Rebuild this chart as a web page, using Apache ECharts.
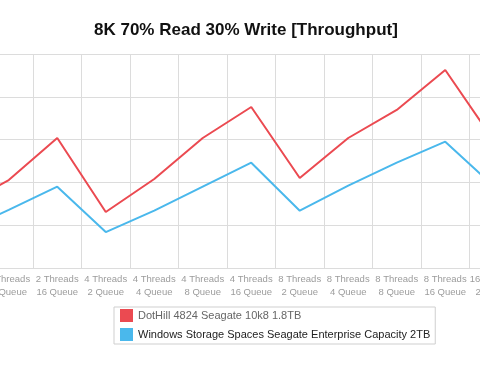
<!DOCTYPE html>
<html>
<head>
<meta charset="utf-8">
<script src="https://cdn.jsdelivr.net/npm/echarts@6/dist/echarts.min.js"></script>
<style>
html,body{margin:0;padding:0;background:#fff;overflow:hidden;width:480px;height:374px;position:relative;}
#chart{position:absolute;left:-64px;top:0;width:582px;height:374px;}
</style>
</head>
<body>
<div id="chart"></div>
<script>
var titleText = "8K 70% Read 30% Write [Throughput]";
var categories = [
  "2 Threads\n4 Queue", "2 Threads\n8 Queue", "2 Threads\n16 Queue",
  "4 Threads\n2 Queue", "4 Threads\n4 Queue", "4 Threads\n8 Queue", "4 Threads\n16 Queue",
  "8 Threads\n2 Queue", "8 Threads\n4 Queue", "8 Threads\n8 Queue", "8 Threads\n16 Queue",
  "16 Threads\n2 Queue"
];
var seriesNames = ["DotHill 4824 Seagate 10k8 1.8TB", "Windows Storage Spaces Seagate Enterprise Capacity 2TB"];
var dotHill = [72, 103, 152, 65.7, 104.2, 152, 188.2, 105.3, 152, 184.7, 231.4, 149];
var storageSpaces = [42, 68.2, 95.2, 42.3, 67.2, 95.2, 123.2, 67.2, 96.5, 123.2, 147.7, 95.8];
var yTicks = [0, 50, 100, 150, 200, 250];

var OFFSET = 64; // the visible window starts this far into the chart
var chart = echarts.init(document.getElementById('chart'), null, {renderer: 'canvas'});
chart.setOption({
  animation: false,
  backgroundColor: '#fff',
  title: {
    text: titleText,
    left: 94 + OFFSET, top: 22, padding: 0,
    textStyle: {fontFamily: 'Liberation Sans, Arial, sans-serif', fontSize: 17, fontWeight: 'bold', color: '#111'}
  },
  legend: {
    orient: 'vertical',
    left: 114 + OFFSET, top: 307,
    padding: [2, 5, 3, 6],
    borderColor: '#cfcfcf', borderWidth: 1,
    itemWidth: 13, itemHeight: 13, itemGap: 6,
    icon: 'rect',
    data: [
      {name: seriesNames[0], textStyle: {color: '#666'}},
      {name: seriesNames[1], textStyle: {color: '#222'}}
    ],
    textStyle: {fontFamily: 'Liberation Sans, Arial, sans-serif', fontSize: 11}
  },
  grid: {left: 0, right: 0, top: 54, bottom: 105.7, containLabel: false, outerBoundsMode: 'none'},
  xAxis: {
    type: 'category',
    data: categories,
    boundaryGap: true,
    axisLine: {lineStyle: {color: '#dcdcdc'}},
    axisTick: {show: false},
    splitLine: {show: true, interval: 0, lineStyle: {color: '#dcdcdc'}},
    axisLabel: {interval: 0, margin: 5, color: '#9c9c9c', fontSize: 9.5, lineHeight: 12.5,
      fontFamily: 'Liberation Sans, Arial, sans-serif'}
  },
  yAxis: {
    type: 'value',
    min: yTicks[0], max: yTicks[yTicks.length - 1], interval: 50,
    axisLine: {show: false}, axisTick: {show: false},
    axisLabel: {show: false},
    splitLine: {lineStyle: {color: '#dcdcdc'}}
  },
  series: [
    {name: seriesNames[0], type: 'line', data: dotHill, showSymbol: false, symbol: 'none',
      itemStyle: {color: '#eb4a51'}, lineStyle: {color: '#eb4a51', width: 2}},
    {name: seriesNames[1], type: 'line', data: storageSpaces, showSymbol: false, symbol: 'none',
      itemStyle: {color: '#4ab8ec'}, lineStyle: {color: '#4ab8ec', width: 2}}
  ]
});
</script>
</body>
</html>
